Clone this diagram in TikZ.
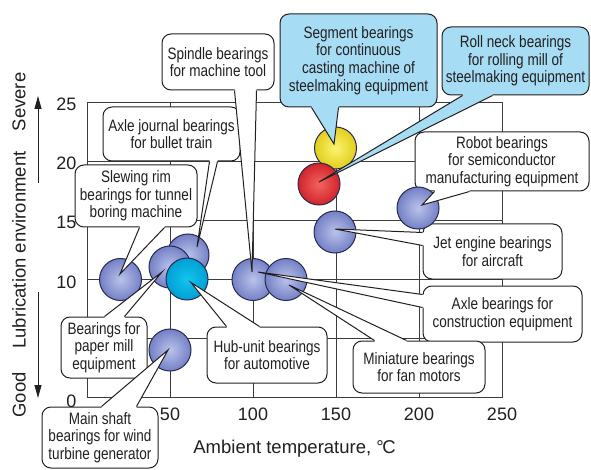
\documentclass[tikz,border=0pt]{standalone}
\usepackage{fontspec}
\setmainfont{Liberation Sans}
\newfontfamily\labfont[FakeStretch=0.82]{Liberation Sans}
\usetikzlibrary{calc,arrows.meta}
\definecolor{ink}{RGB}{35,31,32}
\definecolor{gridc}{RGB}{60,60,60}
\definecolor{callblue}{RGB}{166,221,245}
\definecolor{balledge}{RGB}{40,42,80}
\definecolor{bluein}{RGB}{186,195,234}
\definecolor{blueout}{RGB}{116,128,198}
\definecolor{cyanin}{RGB}{20,196,238}
\definecolor{cyanout}{RGB}{0,160,212}
\definecolor{yelin}{RGB}{252,244,110}
\definecolor{yelout}{RGB}{226,206,30}
\definecolor{redin}{RGB}{244,100,96}
\definecolor{redout}{RGB}{208,36,42}
\tikzset{
  bx/.style={draw=ink, line width=1pt, rounded corners=9pt, fill=white, inner sep=0pt,
    align=center, text=ink, font=\labfont\fontsize{16.5}{17.7}\selectfont},
  bxblue/.style={bx, fill=callblue},
  ballbase/.style={circle, draw=balledge, line width=1pt, minimum size=42pt, inner sep=0pt, shading=radial},
  bblue/.style={ballbase, inner color=bluein, outer color=blueout},
  bcyan/.style={ballbase, inner color=cyanin, outer color=cyanout},
  byel/.style={ballbase, inner color=yelin, outer color=yelout},
  bred/.style={ballbase, inner color=redin, outer color=redout},
  gridline/.style={draw=gridc, line width=0.9pt},
  ticklab/.style={font=\fontsize{18}{18}\selectfont, text=ink},
  axlab/.style={font=\fontsize{18.5}{20}\selectfont, text=ink},
  sidearrow/.style={draw=ink, line width=1pt, -{Triangle[length=13pt,width=7pt]}}
}
\newcommand{\ptr}[5]{%
  \fill[#1] ($(#2)+(#5)$) -- (#2) -- (#4) -- (#3) -- ($(#3)+(#5)$) -- cycle;
  \draw[ink, line width=1pt, line join=miter] (#2) -- (#4) -- (#3);}
\begin{document}
\begin{tikzpicture}[x=1pt,y=-1pt]
\useasboundingbox (0,0) rectangle (591,470);
\fill[white] (0,0) rectangle (591,470);
% grid
\foreach \gx in {170,253,336,419} \draw[gridline] (\gx,102) -- (\gx,397.5);
\foreach \gy in {338.4,279.3,220.2,161.1} \draw[gridline] (87,\gy) -- (502,\gy);
\draw[gridline] (87,102) rectangle (502,397.5);
% tick labels
\node[ticklab, anchor=base] (x50) at (170,420) {50};
\node[ticklab, anchor=base] (x100) at (253,420) {100};
\node[ticklab, anchor=base] (x150) at (336,420) {150};
\node[ticklab, anchor=base] (x200) at (419,420) {200};
\node[ticklab, anchor=base] (x250) at (502,420) {250};
\node[ticklab, anchor=base east] (y25) at (80,111) {25};
\node[ticklab, anchor=base east] (y20) at (80,170) {20};
\node[ticklab, anchor=base east] (y15) at (80,229) {15};
\node[ticklab, anchor=base east] (y10) at (80,288) {10};
\node[ticklab, anchor=base east] (y0) at (80,407.5) {0};
% axis titles
\node[axlab, anchor=base] (xt) at (294.5,453) {Ambient temperature, °\kern-1.5pt C};
\node[axlab, rotate=90] (good) at (19,395) {Good};
\node[axlab, rotate=90] (lub) at (19,250) {Lubrication environment};
\node[axlab, rotate=90] (sev) at (19,102) {Severe};
\coordinate (ua) at (38,183); \coordinate (ub) at (38,96);
\coordinate (da) at (38,292); \coordinate (db) at (38,398);
\draw[sidearrow] (ua) -- (ub);
\draw[sidearrow] (da) -- (db);
% callout boxes
\node[bx, minimum width=112pt, minimum height=56pt] (S) at (218,62) {Spindle bearings\\for machine tool};
\node[bxblue, minimum width=157pt, minimum height=93pt] (SG) at (358.5,60.5) {Segment bearings\\for continuous\\casting machine of\\steelmaking equipment};
\node[bxblue, minimum width=147pt, minimum height=68pt] (RN) at (515.5,61) {Roll neck bearings\\for rolling mill of\\steelmaking equipment};
\node[bx, minimum width=174pt, minimum height=59pt] (RB) at (502,161.5) {Robot bearings\\for semiconductor\\manufacturing equipment};
\node[bx, minimum width=139pt, minimum height=55pt] (JE) at (492.5,251.5) {Jet engine bearings\\for aircraft};
\node[bx, minimum width=159pt, minimum height=56pt] (AC) at (502.5,314) {Axle bearings for\\construction equipment};
\node[bx, minimum width=132pt, minimum height=52pt] (MB) at (419,367) {Miniature bearings\\for fan motors};
\node[bx, minimum width=120pt, minimum height=56pt] (HU) at (267,355) {Hub-unit bearings\\for automotive};
\node[bx, minimum width=86pt, minimum height=61pt] (PM) at (104,347.5) {Bearings for\\paper mill\\equipment};
\node[bx, minimum width=116pt, minimum height=61pt] (MS) at (100,437.5) {Main shaft\\bearings for wind\\turbine generator};
\node[bx, minimum width=122pt, minimum height=62pt] (SR) at (136,196) {Slewing rim\\bearings for tunnel\\boring machine};
\node[bx, minimum width=137pt, minimum height=54pt] (AJ) at (171.5,134) {Axle journal bearings\\for bullet train};
% balls
\node[bblue] (c1) at (120.5,279.5) {};
\node[bblue] (c3) at (188,255) {};
\node[bblue] (c2) at (170,267) {};
\node[bcyan] (c4) at (187,279) {};
\node[bblue] (c5) at (170,350) {};
\node[bblue] (c6) at (253,279.5) {};
\node[bblue] (c7) at (286,279.5) {};
\node[bblue] (c8) at (335,232) {};
\node[bblue] (c9) at (418,208) {};
\node[byel] (c10) at (335.5,148) {};
\node[bred] (c11) at (319,184) {};
% pointer coordinates
\coordinate (S1) at ($(S.south west)+(73,0)$);  \coordinate (S2) at ($(S.south west)+(95,0)$);  \coordinate (St) at ($(c6)+(-1,-7.5)$);
\coordinate (SG1) at ($(SG.south west)+(32,0)$); \coordinate (SG2) at ($(SG.south west)+(59,0)$); \coordinate (SGt) at ($(c10)+(-1.5,-4)$);
\coordinate (RN1) at ($(RN.south west)+(21,0)$); \coordinate (RN2) at ($(RN.south west)+(51,0)$); \coordinate (RNt) at ($(c11)+(0,-2)$);
\coordinate (RB1) at ($(RB.south west)+(20,0)$); \coordinate (RB2) at ($(RB.south west)+(55,0)$); \coordinate (RBt) at ($(c9)+(4,-3)$);
\coordinate (JE1) at ($(JE.north west)+(0,9)$); \coordinate (JE2) at ($(JE.north west)+(0,22)$); \coordinate (JEt) at ($(c8)+(0,-3)$);
\coordinate (AC1) at ($(AC.north west)+(0,9)$); \coordinate (AC2) at ($(AC.north west)+(0,22)$); \coordinate (ACt) at ($(c6)+(5,-7.5)$);
\coordinate (MB1) at ($(MB.north west)+(22,0)$); \coordinate (MB2) at ($(MB.north west)+(54,0)$); \coordinate (MBt) at ($(c7)+(3,5.5)$);
\coordinate (HU1) at ($(HU.north west)+(20,0)$); \coordinate (HU2) at ($(HU.north west)+(53,0)$); \coordinate (HUt) at ($(c4)+(4,3.5)$);
\coordinate (PM1) at ($(PM.north west)+(44,0)$); \coordinate (PM2) at ($(PM.north west)+(64,0)$); \coordinate (PMt) at ($(c2)+(-8,5)$);
\coordinate (MS1) at ($(MS.north west)+(60,0)$); \coordinate (MS2) at ($(MS.north west)+(95,0)$); \coordinate (MSt) at ($(c5)+(-2,0)$);
\coordinate (SR1) at ($(SR.south west)+(65,0)$); \coordinate (SR2) at ($(SR.south west)+(90,0)$); \coordinate (SRt) at ($(c1)+(-0.5,-5.5)$);
\coordinate (AJ1) at ($(AJ.south west)+(107,0)$); \coordinate (AJ2) at ($(AJ.south west)+(115,0)$); \coordinate (AJt) at ($(c3)+(9,-8)$);
% pointers
\ptr{white}{S1}{S2}{St}{0,-2}
\ptr{callblue}{SG1}{SG2}{SGt}{0,-2}
\ptr{callblue}{RN1}{RN2}{RNt}{0,-2}
\ptr{white}{RB1}{RB2}{RBt}{0,-2}
\ptr{white}{JE1}{JE2}{JEt}{4,0}
\ptr{white}{AC1}{AC2}{ACt}{4,0}
\ptr{white}{MB1}{MB2}{MBt}{0,2}
\ptr{white}{HU1}{HU2}{HUt}{0,2}
\ptr{white}{PM1}{PM2}{PMt}{0,2}
\ptr{white}{MS1}{MS2}{MSt}{0,2}
\ptr{white}{SR1}{SR2}{SRt}{0,-2}
\ptr{white}{AJ1}{AJ2}{AJt}{0,-2}
\end{tikzpicture}
\end{document}
